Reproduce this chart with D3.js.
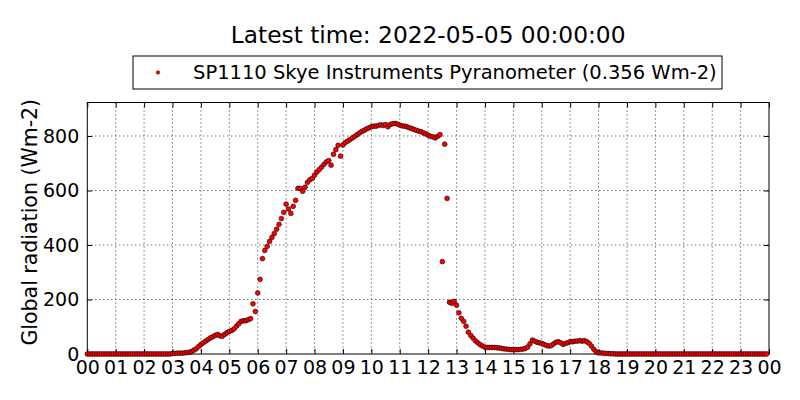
<!DOCTYPE html>
<html>
<head>
<meta charset="utf-8">
<script src="https://cdn.jsdelivr.net/npm/d3@7"></script>
<style>
  body { margin: 0; background: #fff; }
  svg text { font-family: "DejaVu Sans", sans-serif; fill: #000; }
</style>
</head>
<body>
<div id="chart"></div>
<script>
// Text of the chart
const titleText = "Latest time: 2022-05-05 00:00:00";
const seriesName = "SP1110 Skye Instruments Pyranometer (0.356 Wm-2)";
const yLabelText = "Global radiation (Wm-2)";

// Axis ticks
const hourTicks = [0, 1, 2, 3, 4, 5, 6, 7, 8, 9, 10, 11, 12, 13, 14, 15, 16, 17, 18, 19, 20, 21, 22, 23, 24];
const hourLabels = ["00", "01", "02", "03", "04", "05", "06", "07", "08", "09", "10", "11",
                    "12", "13", "14", "15", "16", "17", "18", "19", "20", "21", "22", "23", "00"];
const radTicks = [0, 200, 400, 600, 800];
const radMax = 923;

// One sample every 5 minutes, one row per hour (Wm-2)
const sampleMinutes = 5;
const radiation = [
  [0, 0, 0, 0, 0, 0, 0, 0, 0, 0, 0, 0],                         // 00
  [0, 0, 0, 0, 0, 0, 0, 0, 0, 0, 0, 0],                         // 01
  [0, 0, 0, 0, 0, 0, 0, 0, 0, 0, 0, 0],                         // 02
  [2, 2, 3, 3, 3, 4, 5, 6, 9, 14, 19, 27],                      // 03
  [35, 41, 47, 53, 59, 63, 68, 72, 67, 65, 72, 78],             // 04
  [83, 86, 92, 102, 111, 120, 122, 122, 126, 130, 184, 156],    // 05
  [224, 274, 350, 380, 395, 413, 428, 442, 458, 476, 497, 520], // 06
  [550, 532, 516, 542, 564, 608, 608, 597, 612, 630, 639, 644], // 07
  [656, 668, 677, 686, 696, 705, 710, 693, 733, 750, 766, 726], // 08
  [767, 776, 781, 787, 793, 799, 805, 811, 817, 821, 826, 830], // 09
  [834, 836, 836, 839, 841, 839, 842, 834, 842, 845, 846, 844], // 10
  [840, 837, 836, 834, 830, 828, 824, 821, 818, 816, 811, 808], // 11
  [803, 799, 797, 793, 799, 805, 339, 770, 571, 190, 186, 193], // 12
  [179, 151, 131, 120, 102, 80, 68, 58, 48, 41, 34, 29],        // 13
  [25, 24, 24, 24, 24, 23, 22, 21, 19, 18, 17, 16],             // 14
  [16, 16, 16, 17, 18, 20, 25, 37, 51, 47, 43, 41],             // 15
  [39, 35, 31, 29, 31, 37, 43, 45, 41, 35, 39, 41],             // 16
  [45, 45, 47, 47, 49, 47, 49, 45, 39, 29, 17, 8],              // 17
  [4, 4, 3, 2, 2, 1, 1, 0, 0, 0, 0, 0],                         // 18
  [0, 0, 0, 0, 0, 0, 0, 0, 0, 0, 0, 0],                         // 19
  [0, 0, 0, 0, 0, 0, 0, 0, 0, 0, 0, 0],                         // 20
  [0, 0, 0, 0, 0, 0, 0, 0, 0, 0, 0, 0],                         // 21
  [0, 0, 0, 0, 0, 0, 0, 0, 0, 0, 0, 0],                         // 22
  [0, 0, 0, 0, 0, 0, 0, 0, 0, 0, 0, 0]                          // 23
];

const width = 800, height = 400;
const margin = { top: 102.5, right: 31, bottom: 46, left: 87.3 };

const svg = d3.select("#chart")
    .append("svg")
    .attr("width", width)
    .attr("height", height);

svg.append("rect").attr("width", width).attr("height", height).attr("fill", "#fff");

const x = d3.scaleLinear()
    .domain([0, 24])
    .range([margin.left, width - margin.right]);

const y = d3.scaleLinear()
    .domain([0, radMax])
    .range([height - margin.bottom, margin.top]);

// flatten hourly rows into (time in hours, value)
const points = radiation.flatMap((row, h) =>
    row.map((v, k) => ({ t: h + k * sampleMinutes / 60, v: v })));

// dotted grid
const grid = svg.append("g").attr("class", "grid");
grid.selectAll("line.gx")
    .data(hourTicks.slice(1, -1))
    .enter().append("line")
    .attr("x1", d => x(d)).attr("x2", d => x(d))
    .attr("y1", y(radMax)).attr("y2", y(0));
grid.selectAll("line.gy")
    .data(radTicks.slice(1))
    .enter().append("line")
    .attr("x1", x(0)).attr("x2", x(24))
    .attr("y1", d => y(d)).attr("y2", d => y(d));
grid.selectAll("line")
    .attr("stroke", "#000")
    .attr("stroke-width", 0.8)
    .attr("stroke-dasharray", "1,3");

// axes, ticks pointing inwards like classic matplotlib
const tickLen = 5;
const xAxis = svg.append("g")
    .attr("transform", `translate(0,${y(0)})`)
    .call(d3.axisBottom(x).tickValues(hourTicks).tickSize(-tickLen).tickPadding(7)
        .tickFormat((d, i) => hourLabels[i]));
const xAxisTop = svg.append("g")
    .attr("transform", `translate(0,${y(radMax)})`)
    .call(d3.axisTop(x).tickValues(hourTicks).tickSize(-tickLen).tickFormat(""));
const yAxis = svg.append("g")
    .attr("transform", `translate(${x(0)},0)`)
    .call(d3.axisLeft(y).tickValues(radTicks).tickSize(-tickLen).tickPadding(8));
const yAxisRight = svg.append("g")
    .attr("transform", `translate(${x(24)},0)`)
    .call(d3.axisRight(y).tickValues(radTicks).tickSize(-tickLen).tickFormat(""));

[xAxis, xAxisTop, yAxis, yAxisRight].forEach(g => {
    g.select(".domain").remove();
    g.selectAll(".tick line").attr("stroke", "#000").attr("stroke-width", 1);
    g.selectAll("text").attr("font-size", 19).attr("font-family", "DejaVu Sans");
});
xAxis.selectAll("text").attr("dy", "0.71em");

// frame
svg.append("rect")
    .attr("x", x(0)).attr("y", y(radMax))
    .attr("width", x(24) - x(0)).attr("height", y(0) - y(radMax))
    .attr("fill", "none").attr("stroke", "#000").attr("stroke-width", 1);

// data points
svg.append("g").attr("class", "points")
    .selectAll("circle")
    .data(points)
    .enter().append("circle")
    .attr("cx", d => x(d.t))
    .attr("cy", d => y(d.v))
    .attr("r", 2.4)
    .attr("fill", "#ff0000")
    .attr("stroke", "#000")
    .attr("stroke-width", 0.6);

// title
svg.append("text")
    .attr("x", (x(0) + x(24)) / 2)
    .attr("y", 43)
    .attr("text-anchor", "middle")
    .attr("font-size", 23.3)
    .text(titleText);

// y label
svg.append("text")
    .attr("transform", `translate(37,${(y(0) + y(radMax)) / 2 - 6}) rotate(-90)`)
    .attr("text-anchor", "middle")
    .attr("font-size", 20.5)
    .text(yLabelText);

// legend
const legend = svg.append("g").attr("class", "legend");
legend.append("rect")
    .attr("x", 133).attr("y", 56)
    .attr("width", 589).attr("height", 33)
    .attr("fill", "#fff").attr("stroke", "#000").attr("stroke-width", 1);
legend.append("circle")
    .attr("cx", 158).attr("cy", 72.5).attr("r", 1.8)
    .attr("fill", "#ff0000").attr("stroke", "#000").attr("stroke-width", 0.4);
legend.append("text")
    .attr("x", 193).attr("y", 79)
    .attr("font-size", 19.5)
    .text(seriesName);
</script>
</body>
</html>
